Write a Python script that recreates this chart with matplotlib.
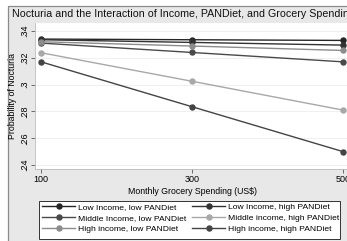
import matplotlib.pyplot as plt
from matplotlib.patches import Rectangle

plt.rcParams['font.family'] = ['Liberation Sans', 'DejaVu Sans']

spending = [100, 300, 500]
series_names = ['Low Income, low PANDiet', 'Low Income, high PANDiet',
                'Middle Income, low PANDiet', 'Middle income, high PANDiet',
                'High income, low PANDiet', 'High income, high PANDiet']
low_low = [0.3340, 0.3335, 0.3330]
low_high = [0.3335, 0.3315, 0.3295]
mid_low = [0.3310, 0.3240, 0.3170]
mid_high = [0.3238, 0.3025, 0.2810]
high_low = [0.3320, 0.3288, 0.3255]
high_high = [0.3170, 0.2835, 0.2500]
series = [low_low, low_high, mid_low, mid_high, high_low, high_high]
colors = ['#262626', '#333333', '#4a4a4a', '#a8a8a8', '#8c8c8c', '#444444']

yticks = [0.24, 0.26, 0.28, 0.30, 0.32, 0.34]
ytick_labels = ['.24', '.26', '.28', '.3', '.32', '.34']
xticks = [100, 300, 500]

W, H = 347, 241
fig = plt.figure(figsize=(W / 100, H / 100), dpi=100)
fig.patch.set_facecolor('white')

# graph region (light gray with border, cropped at right/bottom)
fig.patches.append(Rectangle((7.5 / W, -0.1), 1.2, 1 - 5.5 / H + 0.1,
                             transform=fig.transFigure, facecolor='#e8e8e8',
                             edgecolor='#8a8a8a', linewidth=0.9, zorder=-10))

ax = fig.add_axes([35 / W, 1 - 169 / H, 314 / W, 146 / H])
ax.set_facecolor('white')
lines = []
for name, vals, c in zip(series_names, series, colors):
    ln, = ax.plot(spending, vals, color=c, linewidth=1.0, marker='o', markersize=3.6,
                  label=name, clip_on=False)
    lines.append(ln)

ax.set_xlim(92, 508)
ax.set_ylim(0.237, 0.346)
ax.set_yticks(yticks)
ax.set_yticklabels(ytick_labels, rotation=90, va='center')
ax.set_xticks(xticks)
ax.tick_params(labelsize=6.5, length=3, width=0.6, color='#555555', pad=1.5)
ax.grid(axis='y', color='#eeeeee', linewidth=0.6)
ax.set_axisbelow(True)
for s in ['top', 'right']:
    ax.spines[s].set_visible(False)
for s in ['left', 'bottom']:
    ax.spines[s].set_color('#bbbbbb')
    ax.spines[s].set_linewidth(0.6)

ax.set_xlabel('Monthly Grocery Spending (US$)', fontsize=6.3, labelpad=2)
ax.set_ylabel('Probability of Nocturia', fontsize=6.3, labelpad=2)
fig.text(12 / W, 1 - 14 / H, 'Nocturia and the Interaction of Income, PANDiet, and Grocery Spending',
         fontsize=7.7, ha='left', va='center', color='#111111')

# legend: white box with two columns (rows read left to right)
fig.patches.append(Rectangle((39 / W, 1 - 239 / H), 301 / W, 38 / H,
                             transform=fig.transFigure, facecolor='white',
                             edgecolor='#333333', linewidth=0.7, zorder=1))
for col, x0 in enumerate([42, 192]):
    idx = [col, col + 2, col + 4]
    leg = fig.legend([lines[i] for i in idx], [series_names[i] for i in idx],
                     loc='upper left', bbox_to_anchor=(x0 / W, 1 - 203 / H),
                     fontsize=6.1, frameon=False, handlelength=3.9,
                     borderaxespad=0, borderpad=0, labelspacing=0.38,
                     handletextpad=0.4)
    leg.set_zorder(2)

fig.savefig('out.png', dpi=100)
